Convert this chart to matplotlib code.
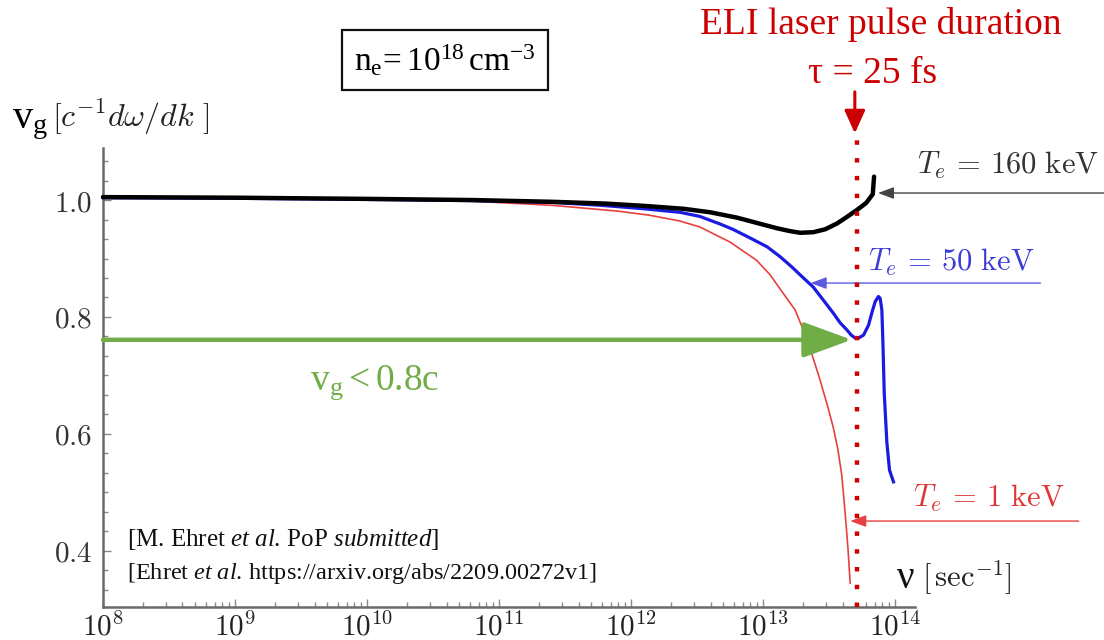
import numpy as np
import matplotlib
matplotlib.use('Agg')
import matplotlib.pyplot as plt
from matplotlib.ticker import FixedLocator, MultipleLocator, FuncFormatter, LogLocator, NullFormatter

plt.rcParams['mathtext.fontset'] = 'cm'
plt.rcParams['mathtext.rm'] = 'Liberation Serif'
plt.rcParams['mathtext.it'] = 'Liberation Serif:italic'
plt.rcParams['mathtext.bf'] = 'Liberation Serif:bold'

# ---------------- data ----------------
# log10 of frequency nu [1/s] and group velocity v_g [c]
log_nu_160 = [8.0, 9.0, 10.0, 10.8, 11.4, 11.8, 12.1, 12.4, 12.6, 12.8, 12.95, 13.1,
              13.2, 13.28, 13.38, 13.47, 13.56, 13.64, 13.71, 13.78, 13.83, 13.84]
v_160 = [1.005, 1.004, 1.002, 1.000, 0.997, 0.994, 0.990, 0.985, 0.979, 0.970, 0.961, 0.952,
         0.947, 0.944, 0.945, 0.950, 0.960, 0.972, 0.983, 0.995, 1.010, 1.040]

log_nu_50 = [8.0, 9.0, 10.0, 10.8, 11.4, 11.77, 12.1, 12.37, 12.52, 12.674, 12.77, 12.902,
             13.03, 13.129, 13.22, 13.28, 13.38, 13.455, 13.53, 13.583, 13.634, 13.667,
             13.697, 13.722, 13.760, 13.798, 13.823, 13.848, 13.873,
             13.886, 13.899, 13.907, 13.917, 13.937, 13.957, 13.987]
v_50 = [1.004, 1.003, 1.001, 0.999, 0.996, 0.991, 0.985, 0.979, 0.972, 0.959, 0.950, 0.935,
        0.920, 0.903, 0.885, 0.872, 0.851, 0.829, 0.807, 0.790, 0.778, 0.769,
        0.764, 0.764, 0.769, 0.786, 0.807, 0.826, 0.835,
        0.832, 0.812, 0.756, 0.670, 0.585, 0.538, 0.518]

log_nu_1 = [8.0, 9.0, 10.0, 10.8, 11.4, 11.9, 12.14, 12.371, 12.52, 12.75, 12.95, 13.053,
            13.15, 13.242, 13.30, 13.371, 13.43, 13.485, 13.53, 13.565, 13.595, 13.621,
            13.642, 13.659]
v_1 = [1.003, 1.003, 1.002, 0.998, 0.991, 0.981, 0.974, 0.964, 0.954, 0.928, 0.897, 0.872,
       0.841, 0.812, 0.780, 0.735, 0.693, 0.650, 0.612, 0.575, 0.530, 0.465,
       0.405, 0.345]

nu_pulse = 5.1e13          # nu of the ELI pulse marker (tau = 25 fs)
v_threshold = 0.761        # level of the green "v_g < 0.8c" arrow

x_ticks = [1e8, 1e9, 1e10, 1e11, 1e12, 1e13, 1e14]
y_ticks = [0.4, 0.6, 0.8, 1.0]

# ---------------- figure ----------------
W, H = 1104, 640
fig = plt.figure(figsize=(W / 100, H / 100), dpi=100)
fig.patch.set_facecolor('white')

def P(x, y):
    return (x / W, 1 - y / H)

ax = fig.add_axes([103 / W, 1 - 607 / H, (915 - 103) / W, (607 - 148) / H])
ax.set_xscale('log')
ax.set_xlim(10 ** 8.0, 10 ** 14.15)
ax.set_ylim(0.304, 1.089)

for s in ['top', 'right']:
    ax.spines[s].set_visible(False)
for s in ['left', 'bottom']:
    ax.spines[s].set_color('#6a6a6a')
    ax.spines[s].set_linewidth(1.8)

ax.xaxis.set_major_locator(FixedLocator(x_ticks))
ax.xaxis.set_minor_locator(LogLocator(base=10, subs=np.arange(2, 10), numticks=20))
ax.xaxis.set_minor_formatter(NullFormatter())
ax.xaxis.set_major_formatter(FuncFormatter(lambda v, _: r'$10^{%d}$' % int(round(np.log10(v)))))
ax.yaxis.set_major_locator(FixedLocator(y_ticks))
ax.yaxis.set_major_formatter(FuncFormatter(lambda v, _: r'$%.1f$' % v))
ax.yaxis.set_minor_locator(MultipleLocator(0.2 / 6))

ax.tick_params(which='both', direction='in', color='#8a8a8a', width=1.0)
ax.tick_params(which='major', length=6)
ax.tick_params(which='minor', length=3.5)
ax.tick_params(axis='x', which='major', labelsize=21, pad=4, labelcolor='#222222')
ax.tick_params(axis='y', which='major', labelsize=21, pad=8, labelcolor='#333333')

# curves
ax.plot(10 ** np.array(log_nu_1), v_1, color='#e8403f', lw=1.2, zorder=3, clip_on=False)
ax.plot(10 ** np.array(log_nu_50), v_50, color='#1a1ae0', lw=2.3, zorder=4, clip_on=False,
        solid_joinstyle='round')
ax.plot(10 ** np.array(log_nu_160), v_160, color='#000000', lw=3.2, zorder=5, clip_on=False,
        solid_capstyle='round', solid_joinstyle='round')

# red dotted marker line
ax.plot([nu_pulse, nu_pulse], [0.304, 1.112], color='#d00000', lw=3.2,
        linestyle=(0, (1, 3)), dash_capstyle='butt', clip_on=False, zorder=6)
ax.annotate('', xy=(nu_pulse * 0.97, 1.114), xytext=(nu_pulse * 0.97, 1.185),
            xycoords='data', textcoords='data', annotation_clip=False,
            arrowprops=dict(arrowstyle='-|>,head_length=1.0,head_width=0.45',
                            color='#cc0000', lw=2.2, mutation_scale=14, shrinkA=0, shrinkB=0))

# green arrow
ax.annotate('', xy=(10 ** 13.67, v_threshold), xytext=(10 ** 8.0, v_threshold),
            xycoords='data', textcoords='data', annotation_clip=False,
            arrowprops=dict(arrowstyle='-|>,head_length=1.5,head_width=0.55',
                            color='#70ad47', lw=3.2, mutation_scale=20, shrinkA=0, shrinkB=0),
            zorder=7)

# pointer arrows to the curves
def pointer(tip_lognu, tip_v, tail_lognu, color):
    ax.annotate('', xy=(10 ** tip_lognu, tip_v), xytext=(10 ** tail_lognu, tip_v),
                xycoords='data', textcoords='data', annotation_clip=False,
                arrowprops=dict(arrowstyle='-|>,head_length=0.8,head_width=0.3',
                                color=color, lw=1.0, mutation_scale=12, shrinkA=0, shrinkB=0))

pointer(13.87, 1.012, 15.60, '#444444')
pointer(13.36, 0.858, 15.10, '#5a5ae0')
pointer(13.66, 0.451, 15.39, '#e84040')

# ---------------- texts ----------------
serif = 'Liberation Serif'
fig.text(*P(881, 25), 'ELI laser pulse duration', color='#cc0000', family=serif,
         fontsize=27, ha='center', va='center')
fig.text(*P(873, 74), 'τ = 25 fs', color='#cc0000', family=serif,
         fontsize=27, ha='center', va='center')

fig.text(*P(445, 60), r'$\mathrm{n_e\!= 10^{18}\,cm^{-3}}$', family=serif,
         math_fontfamily='custom', fontsize=24, ha='center', va='center',
         bbox=dict(boxstyle='square,pad=0.38', fc='white', ec='#111111', lw=1.6))

fig.text(*P(12, 124), r'$\mathrm{v_g}$', family=serif, math_fontfamily='custom',
         fontsize=29, ha='left', va='center')
fig.text(*P(52, 117), r'$[c^{-1}d\omega/dk\ ]$', math_fontfamily='cm',
         fontsize=23, ha='left', va='center', color='#222222')

fig.text(*P(917, 165), r'$T_e\,=\,160\ \mathrm{keV}$', math_fontfamily='cm',
         fontsize=22, ha='left', va='center', color='#333333')
fig.text(*P(868, 262), r'$T_e\,=\,50\ \mathrm{keV}$', math_fontfamily='cm',
         fontsize=22, ha='left', va='center', color='#3c3cd8')
fig.text(*P(913, 498), r'$T_e\,=\,1\ \mathrm{keV}$', math_fontfamily='cm',
         fontsize=22, ha='left', va='center', color='#e03535')

fig.text(*P(310, 383), r'$\mathrm{v_g < 0.8c}$', family=serif, math_fontfamily='custom',
         fontsize=27, ha='left', va='center', color='#70ad47')

fig.text(*P(127, 540), r'[M. Ehret $\mathit{et\ al.}\,$PoP $\mathit{submitted}$]', family=serif,
         math_fontfamily='custom', fontsize=18, ha='left', va='center', color='#111111')
fig.text(*P(127, 574), r'[Ehret $\mathit{et\ al.}\,$https://arxiv.org/abs/2209.00272v1]', family=serif,
         math_fontfamily='custom', fontsize=17.5, ha='left', va='center', color='#111111')

fig.text(*P(897, 578), 'ν', family=serif, fontsize=28, ha='left', va='center', color='#111111')
fig.text(*P(922, 578), r'$[\,\mathrm{sec}^{-1}]$', math_fontfamily='cm',
         fontsize=22, ha='left', va='center', color='#222222')

fig.savefig('out.png', dpi=100, facecolor='white')
